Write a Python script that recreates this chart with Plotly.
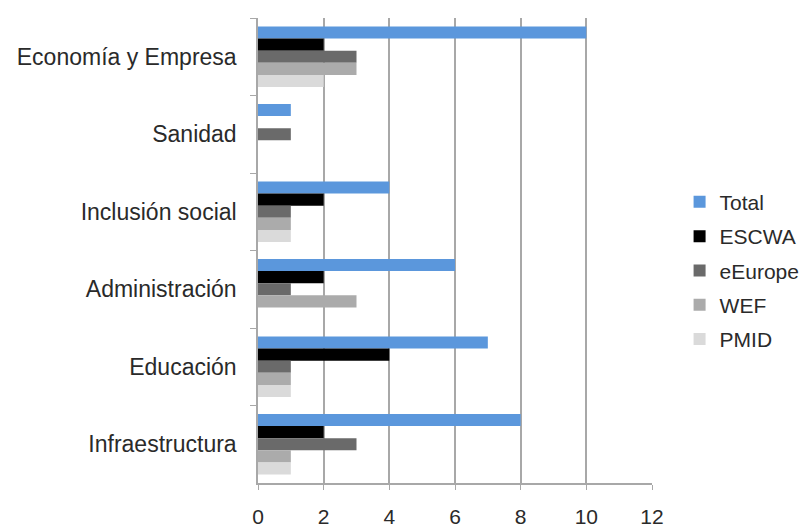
import plotly.graph_objects as go

categories = ["Economía y Empresa", "Sanidad", "Inclusión social", "Administración", "Educación", "Infraestructura"]
series_names = ["Total", "ESCWA", "eEurope", "WEF", "PMID"]
total = [10, 1, 4, 6, 7, 8]
escwa = [2, 0, 2, 2, 4, 2]
eeurope = [3, 1, 1, 1, 1, 3]
wef = [3, 0, 1, 3, 1, 1]
pmid = [2, 0, 1, 0, 1, 1]
colors = ["#5b97dc", "#000000", "#6a6a6a", "#ababab", "#dadada"]
x_ticks = [0, 2, 4, 6, 8, 10, 12]

fig = go.Figure()
for i, (name, vals) in enumerate(zip(series_names, [total, escwa, eeurope, wef, pmid])):
    fig.add_trace(go.Bar(
        y=categories, x=vals, name=name, orientation="h",
        marker=dict(color=colors[i], line=dict(width=0)),
        legendgroup=name,
    ))

fig.update_layout(
    width=804, height=529,
    barmode="group", bargap=0.22, bargroupgap=0,
    plot_bgcolor="white", paper_bgcolor="white",
    margin=dict(l=258, r=152, t=18, b=46, autoexpand=False),
    font=dict(family="Liberation Sans, Arial, sans-serif", size=23, color="#2a2a2a"),
    legend=dict(
        x=1.07, xanchor="left", y=0.648, yanchor="top",
        traceorder="grouped", tracegroupgap=4,
        font=dict(size=21, color="#2a2a2a"),
        itemwidth=30,
    ),
    xaxis=dict(
        range=[0, 12], tickvals=x_ticks, showgrid=True, gridcolor="#a8a8a8", gridwidth=1.5,
        showline=True, linecolor="#a8a8a8", linewidth=1.5,
        ticks="outside", ticklen=5, tickcolor="#a8a8a8",
        ticklabelstandoff=9, zeroline=False, automargin=False,
        tickfont=dict(size=21),
    ),
    yaxis=dict(
        autorange="reversed", showline=True, linecolor="#a8a8a8", linewidth=1.5,
        ticks="outside", ticklen=6, tickcolor="#a8a8a8", tickson="boundaries",
        showgrid=False, ticklabelstandoff=15, automargin=False,
    ),
)

fig.write_html(
    "out.html",
    config={"displayModeBar": False},
    post_script="document.body.style.margin='0';document.body.style.padding='0';",
)
